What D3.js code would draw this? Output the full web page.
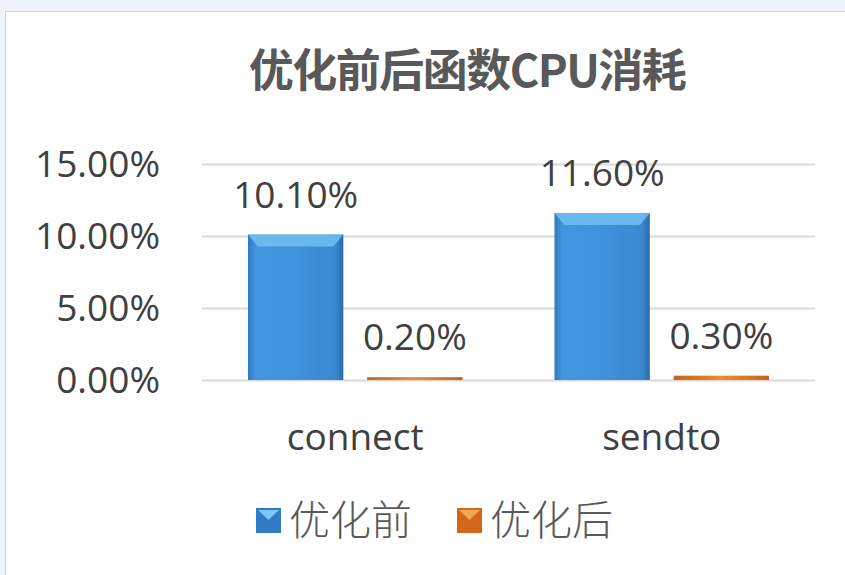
<!DOCTYPE html>
<html><head><meta charset="utf-8">
<script src="https://cdn.jsdelivr.net/npm/d3@7"></script>
<style>body{margin:0;background:#edf3fa;}svg{display:block}</style>
</head><body>
<svg id="c" width="845" height="575"></svg>
<script>
const categories = ["connect", "sendto"];
const seriesNames = ["优化前", "优化后"];
const before = [10.1, 11.6];
const after = [0.2, 0.3];
const yTicks = [0, 5, 10, 15];
const title = "优化前后函数CPU消耗";

const svg = d3.select("#c");
const defs = svg.append("defs");
function grad(id, stops, x2, y2) {
  const g = defs.append("linearGradient").attr("id", id).attr("x1", 0).attr("y1", 0).attr("x2", x2).attr("y2", y2);
  stops.forEach(s => g.append("stop").attr("offset", s[0]).attr("stop-color", s[1]));
}
grad("gb", [[0, "#2f78c0"], [0.08, "#4297e0"], [0.5, "#3f92dc"], [0.92, "#3a88d0"], [1, "#2b6aa8"]], 1, 0);
grad("go", [[0, "#c8641a"], [0.5, "#f08a30"], [1, "#c8641a"]], 1, 0);

const FONT = "'Open Sans', sans-serif";

svg.append("rect").attr("x", 0).attr("y", 0).attr("width", 845).attr("height", 575).attr("fill", "#edf3fa");
svg.append("rect").attr("x", 5.5).attr("y", 11.5).attr("width", 845).attr("height", 570).attr("fill", "#fff").attr("stroke", "#d0d4d8");

const margin = {left: 202, right: 815, top: 164, bottom: 380};
const y = d3.scaleLinear().domain([0, 15]).range([margin.bottom, margin.top]);
const x0 = d3.scaleBand().domain(categories).range([margin.left, margin.right]).paddingInner(0.3).paddingOuter(0.15);
const x1 = d3.scaleBand().domain(seriesNames).range([0, x0.bandwidth()]).paddingInner(0.2);

svg.append("text").attr("x", 467).attr("y", 87).attr("text-anchor", "middle")
  .attr("font-family", "'Noto Sans CJK SC', sans-serif").attr("font-weight", "bold")
  .attr("font-size", 45).attr("fill", "#595959").attr("letter-spacing", -1.5).text(title);

const yAxis = d3.axisLeft(y).tickValues(yTicks).tickSize(-(margin.right - margin.left)).tickFormat(d => d3.format(".2f")(d) + "%").tickPadding(42);
const ga = svg.append("g").attr("transform", `translate(${margin.left},0)`).call(yAxis);
ga.select(".domain").remove();
ga.selectAll(".tick line").attr("stroke", "#d9d9d9").attr("stroke-width", 2);
ga.selectAll(".tick text").attr("font-family", FONT).attr("font-size", 37).attr("fill", "#404040").attr("dy", "0.35em");

const data = categories.map((c, i) => ({cat: c, vals: [{s: seriesNames[0], v: before[i]}, {s: seriesNames[1], v: after[i]}]}));
const groups = svg.selectAll("g.grp").data(data).join("g").attr("class", "grp").attr("transform", d => `translate(${x0(d.cat)},0)`);
groups.selectAll("rect.bar").data(d => d.vals).join("rect").attr("class", "bar")
  .attr("x", d => x1(d.s)).attr("width", x1.bandwidth())
  .attr("y", d => y(d.v)).attr("height", d => y(0) - y(d.v))
  .attr("fill", d => d.s === seriesNames[0] ? "url(#gb)" : "url(#go)");
groups.selectAll("path.bev").data(d => d.vals.filter(v => v.s === seriesNames[0])).join("path").attr("class", "bev")
  .attr("d", d => {
    const xa = x1(d.s), w = x1.bandwidth(), t = y(d.v);
    return `M${xa},${t}L${xa + w},${t}L${xa + w - 10},${t + 12}L${xa + 10},${t + 12}Z`;
  }).attr("fill", "#6cbcf0").attr("opacity", 0.9);
groups.selectAll("text.lbl").data(d => d.vals).join("text").attr("class", "lbl")
  .attr("x", d => x1(d.s) + x1.bandwidth() / 2).attr("y", d => y(d.v) - 27)
  .attr("text-anchor", "middle").attr("font-family", FONT).attr("font-size", 37).attr("fill", "#404040")
  .text(d => d3.format(".2f")(d.v) + "%");

svg.selectAll("text.cat").data(categories).join("text").attr("class", "cat")
  .attr("x", d => x0(d) + x0.bandwidth() / 2).attr("y", 450).attr("text-anchor", "middle")
  .attr("font-family", FONT).attr("font-size", 37).attr("fill", "#404040").text(d => d);

const legX = [256, 457];
const leg = svg.selectAll("g.leg").data(seriesNames).join("g").attr("class", "leg").attr("transform", (d, i) => `translate(${legX[i]},508)`);
leg.append("rect").attr("width", 25).attr("height", 25).attr("fill", (d, i) => i === 0 ? "#2f7cc4" : "#d2691a");
leg.append("path").attr("d", "M2,2L23,2L12.5,12Z").attr("fill", (d, i) => i === 0 ? "#7cc8f5" : "#f6a550");
leg.append("text").attr("x", 33).attr("y", 27).attr("font-family", "'Noto Sans CJK SC', sans-serif").attr("font-weight", 300)
  .attr("font-size", 41).attr("fill", "#595959").text(d => d);
</script>
</body></html>
